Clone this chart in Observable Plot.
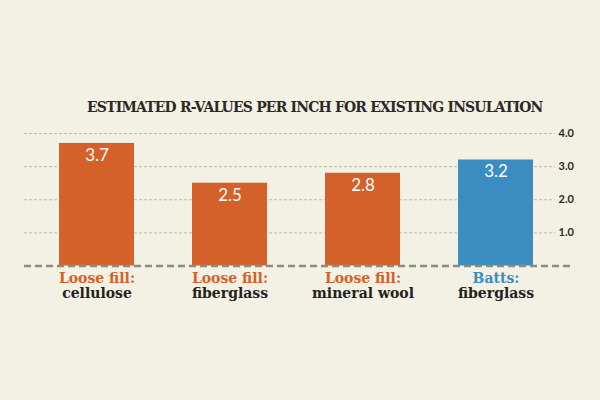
<!DOCTYPE html>
<html>
<head>
<meta charset="utf-8">
<script src="https://cdn.jsdelivr.net/npm/d3@7"></script>
<script src="https://cdn.jsdelivr.net/npm/@observablehq/plot@0.6"></script>
<style>
  html, body { margin: 0; padding: 0; background: #f3f0e4; }
  #wrap { position: relative; width: 600px; height: 400px; background: #f3f0e4; overflow: hidden; }
  #title {
    position: absolute; left: 87px; top: 97px; width: 470px;
    font-family: "DejaVu Serif", serif; font-weight: bold; font-size: 15.5px;
    font-stretch: condensed; color: #2b2926; white-space: nowrap; letter-spacing: -0.8px;
  }
  #chart { position: absolute; left: 0; top: 0; }
</style>
</head>
<body>
<div id="wrap">
  <div id="chart"></div>
  <div id="title">ESTIMATED R-VALUES PER INCH FOR EXISTING INSULATION</div>
</div>
<script>
const categories = ["cellulose", "fiberglass (loose)", "mineral wool", "fiberglass (batts)"];
const typeLabels = ["Loose fill:", "Loose fill:", "Loose fill:", "Batts:"];
const materialLabels = ["cellulose", "fiberglass", "mineral wool", "fiberglass"];
const values = [3.7, 2.5, 2.8, 3.2];
const groups = ["loose", "loose", "loose", "batts"];
const yTicks = [1, 2, 3, 4];

const data = categories.map((c, i) => ({
  cat: c, type: typeLabels[i], material: materialLabels[i], value: values[i], group: groups[i]
}));

const colorMap = {loose: "#d4602a", batts: "#3a8cc1"};

const plot = Plot.plot({
  width: 600,
  height: 400,
  marginTop: 133,
  marginBottom: 134.5,
  marginLeft: 24,
  marginRight: 29,
  style: {background: "transparent", overflow: "visible"},
  x: {domain: categories, paddingInner: 0.437, paddingOuter: 0.272, align: 0.483, axis: null},
  y: {domain: [0, 4], axis: null},
  marks: [
    Plot.ruleY(yTicks, {stroke: "#bdb9ac", strokeWidth: 1, strokeDasharray: "3,2", insetRight: 16}),
    Plot.barY(data, {x: "cat", y: "value", fill: d => colorMap[d.group]}),
    Plot.ruleY([0], {stroke: "#8d8b80", strokeWidth: 2.5, strokeDasharray: "7,4"}),
    Plot.axisY(yTicks, {
      anchor: "right", tickSize: 0, tickPadding: 0, dx: -13, label: null,
      tickFormat: d => d.toFixed(1), textAnchor: "start",
      fontFamily: "Lato, 'Open Sans', sans-serif", fontWeight: "bold", fontSize: 11, fill: "#2b2926"
    }),
    Plot.text(data, {
      x: "cat", y: "value", text: d => d.value.toFixed(1), dy: 12,
      fill: "#ffffff", fontFamily: "Lato, 'Open Sans', sans-serif", fontSize: 17, lineAnchor: "middle"
    }),
    Plot.text(data, {
      x: "cat", y: () => 0, text: "type", dy: 13,
      fill: d => colorMap[d.group], fontFamily: "'DejaVu Serif', serif", fontSize: 14,
      fontWeight: "bold", fontStretch: "condensed", lineAnchor: "middle", letterSpacing: "-0.3px"
    }),
    Plot.text(data, {
      x: "cat", y: () => 0, text: "material", dy: 28,
      fill: "#222220", fontFamily: "'DejaVu Serif', serif", fontSize: 14,
      fontWeight: "bold", fontStretch: "condensed", lineAnchor: "middle", letterSpacing: "-0.3px"
    })
  ]
});
document.getElementById("chart").appendChild(plot);
</script>
</body>
</html>
